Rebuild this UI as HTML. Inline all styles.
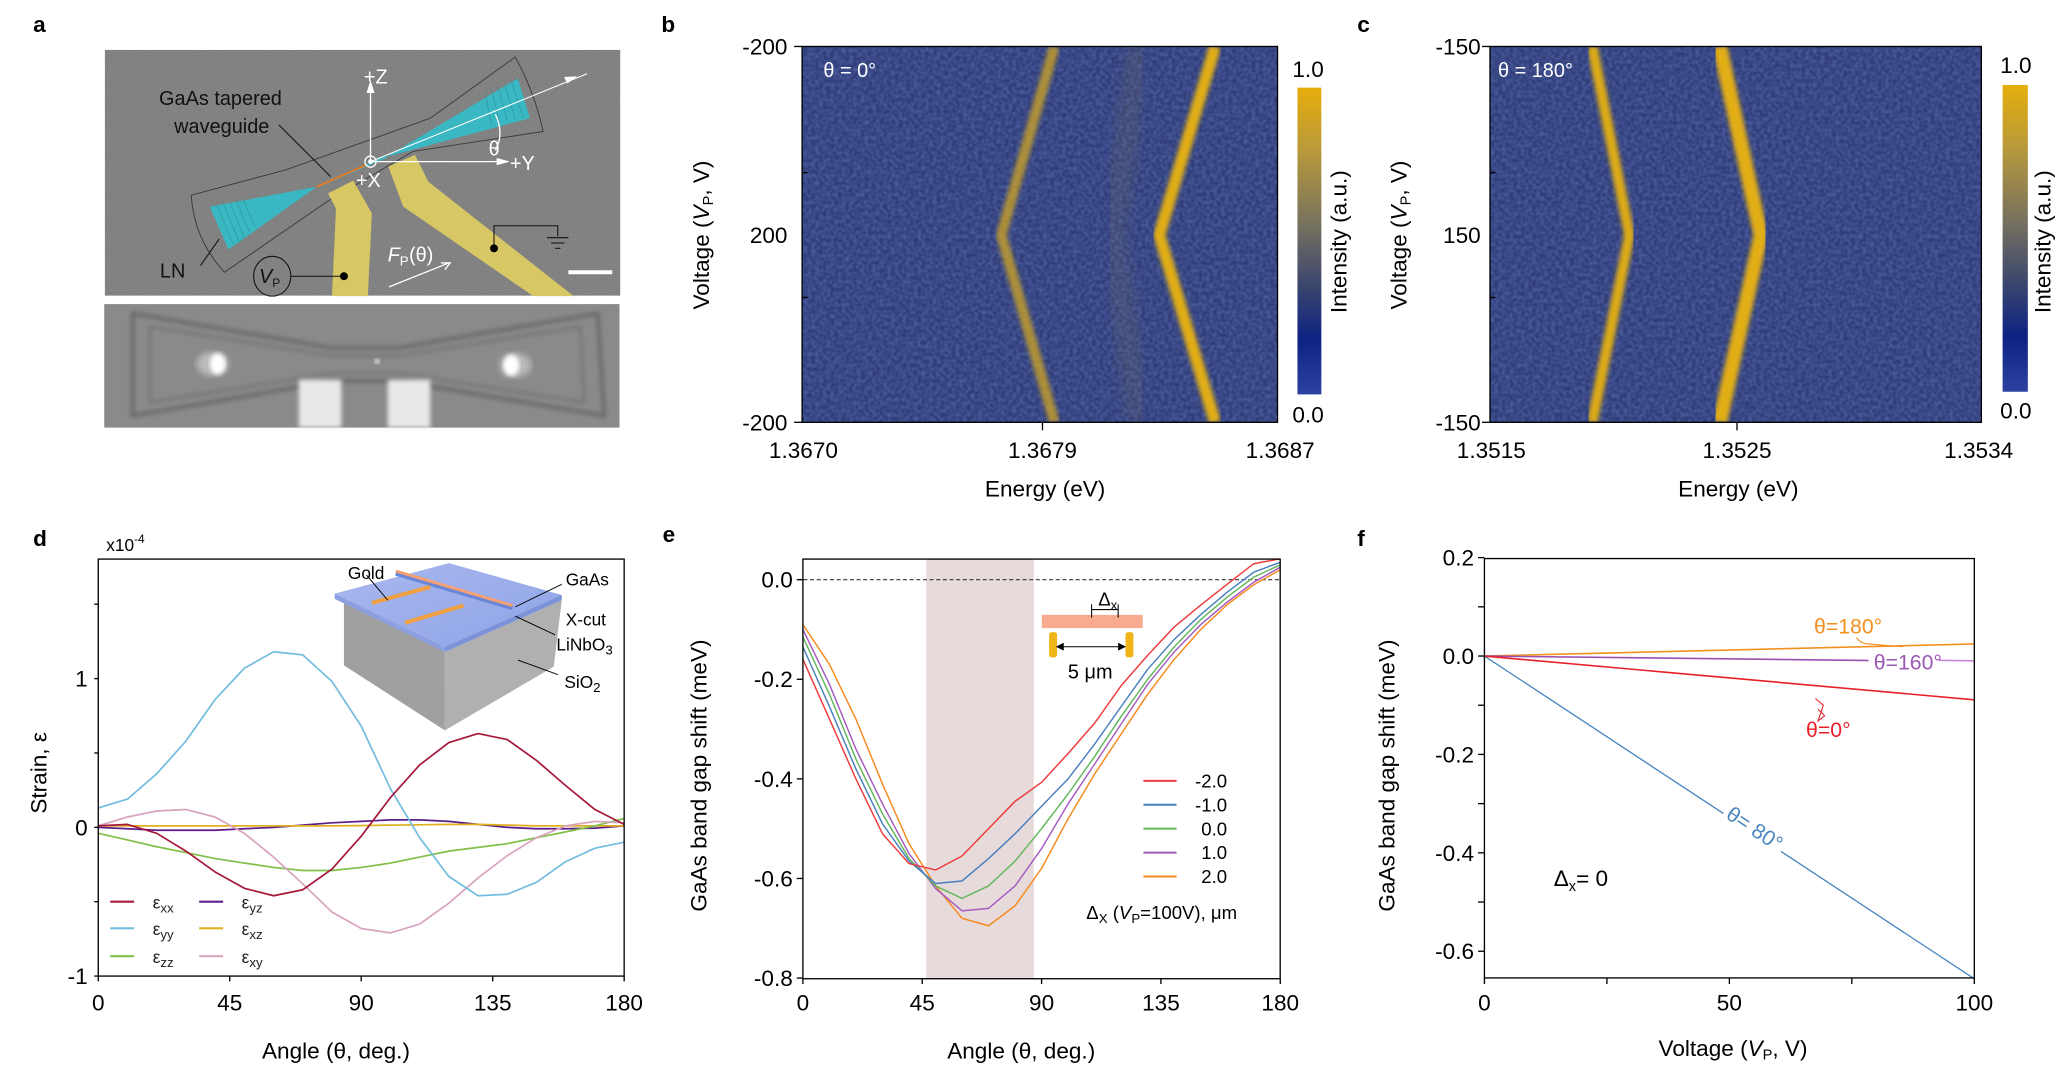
<!DOCTYPE html>
<html><head><meta charset="utf-8"><style>
html,body{margin:0;padding:0;background:#fff;}
svg{display:block;}
text{font-family:"Liberation Sans",Arial,sans-serif;}
</style></head><body>
<svg id="s" width="2071" height="1077" viewBox="0 0 1559.5 811" preserveAspectRatio="none" xmlns="http://www.w3.org/2000/svg">
<defs>
<filter id="noise" x="0" y="0" width="100%" height="100%">
<feTurbulence type="fractalNoise" baseFrequency="0.35" numOctaves="1" seed="3"/>
<feColorMatrix type="matrix" values="0 0 0 0 0.1  0 0 0 0 0.15  0 0 0 0 0.45  0 0 0 1.2 -0.35"/>
</filter>
<filter id="noise2" x="0" y="0" width="100%" height="100%">
<feTurbulence type="fractalNoise" baseFrequency="0.9" numOctaves="1" seed="7"/>
<feColorMatrix type="matrix" values="0 0 0 0 0.5 0 0 0 0 0.5 0 0 0 0 0.5 0 0 0 0.6 -0.2"/>
</filter>
<filter id="blur"><feGaussianBlur stdDeviation="1.6"/></filter>
<filter id="blur2"><feGaussianBlur stdDeviation="2.5"/></filter>
<filter id="blur3"><feGaussianBlur stdDeviation="3"/></filter>
<filter id="blur5"><feGaussianBlur stdDeviation="5"/></filter>
<linearGradient id="cb" x1="0" y1="0" x2="0" y2="1">
<stop offset="0" stop-color="#e6ae0c"/><stop offset="0.2" stop-color="#b99a3a"/><stop offset="0.45" stop-color="#75705f"/><stop offset="0.65" stop-color="#3a456e"/><stop offset="0.82" stop-color="#0d2283"/><stop offset="1" stop-color="#2c42a0"/>
</linearGradient>
<linearGradient id="top" x1="0" y1="0" x2="1" y2="1"><stop offset="0" stop-color="#a9b8ef"/><stop offset="1" stop-color="#8ea3e6"/></linearGradient>
<clipPath id="cpb"><rect x="604" y="35" width="358" height="283"/></clipPath>
<clipPath id="cpc"><rect x="1122" y="35" width="370" height="283"/></clipPath>
</defs>

<g font-weight="bold" font-size="17">
<text x="25" y="24">a</text><text x="498" y="24">b</text><text x="1022" y="24">c</text>
<text x="25" y="411">d</text><text x="499" y="408">e</text><text x="1022" y="411">f</text>
</g>

<!-- Panel a -->
<rect x="79" y="37.6" width="388" height="185" fill="#7f7f7f"/>
<rect x="79" y="37.6" width="388" height="185" filter="url(#noise2)" opacity="0.5"/>
<path d="M144,147 L215,128 L324,89 L388,43 Q402,68 409,99 L311,114 L246,152 L169,205 Q146,180 144,147Z" fill="none" stroke="#3a3a3a" stroke-width="0.7"/>
<polygon points="158,155.6 172,188 238.5,140.6" fill="#39b7c2"/>
<polygon points="390,59 399,89 291,118" fill="#39b7c2"/>
<line x1="238.5" y1="140.6" x2="291" y2="118" stroke="#39b7c2" stroke-width="1.5"/>
<g stroke="#2a8f99" stroke-width="0.5" opacity="0.8">
<line x1="163" y1="154" x2="176" y2="185"/><line x1="168" y1="153" x2="180" y2="182"/><line x1="173" y1="152" x2="184" y2="179"/><line x1="178" y1="151" x2="188" y2="175"/><line x1="183" y1="150" x2="192" y2="171"/>
<line x1="385" y1="61" x2="394" y2="89"/><line x1="380" y1="63" x2="388" y2="90"/><line x1="375" y1="65" x2="382" y2="91"/><line x1="370" y1="67" x2="376" y2="92"/><line x1="365" y1="69" x2="370" y2="93"/>
</g>
<line x1="238.5" y1="140.6" x2="275.6" y2="124.2" stroke="#e8781e" stroke-width="1.4"/>
<polygon points="247,145.6 266,136 280,160.6 277,223 250,223 253,157" fill="#d8c765"/>
<polygon points="292.4,125.4 312.5,116.7 322.5,136.8 432,223 401.6,223 303.6,155.6" fill="#d8c765"/>
<g stroke="#fff" stroke-width="1" fill="none">
<line x1="279" y1="121.7" x2="279" y2="65"/><polyline points="276.5,70 279,62 281.5,70" fill="#fff"/>
<line x1="279" y1="121.7" x2="380" y2="121.7"/><polyline points="374,119.5 382,121.7 374,124" fill="#fff"/>
<line x1="279" y1="121.7" x2="442" y2="55.5" stroke-width="0.8"/><polyline points="425,58.5 433,58 427,62.5" fill="#fff"/>
<circle cx="279" cy="121.7" r="4.2"/><circle cx="279" cy="121.7" r="1.3" fill="#fff"/>
<path d="M373,86 Q380,101 373,113"/>
<line x1="428" y1="205" x2="461" y2="205" stroke-width="3"/>
<line x1="293" y1="216" x2="338" y2="198"/><polyline points="332,198 339,198 335,203"/>
</g>
<g fill="#fff" font-size="15"><text x="274" y="63">+Z</text><text x="384" y="128">+Y</text><text x="268" y="141">+X</text><text x="368" y="117">θ</text>
<text x="292" y="197" font-style="italic">F</text><text x="301" y="200" font-size="10">P</text><text x="308" y="197">(θ)</text></g>
<g fill="#111" font-size="15" text-anchor="middle"><text x="166" y="79">GaAs tapered</text><text x="167" y="100">waveguide</text><text x="130" y="209">LN</text></g>
<g stroke="#111" stroke-width="0.8" fill="none">
<line x1="210" y1="94" x2="249" y2="133"/><line x1="151" y1="200" x2="165" y2="180"/>
<ellipse cx="205" cy="208" rx="14" ry="15"/><line x1="219" y1="208" x2="259" y2="208"/>
<polyline points="372,187 372,170 420,170 420,178"/><line x1="412" y1="179" x2="428" y2="179"/><line x1="415" y1="183" x2="425" y2="183"/><line x1="418" y1="187" x2="422" y2="187"/>
</g>
<circle cx="259" cy="208" r="3" fill="#000"/><circle cx="372" cy="187" r="3" fill="#000"/>
<text x="195" y="213" font-size="15" font-style="italic" fill="#111">V</text><text x="205" y="216" font-size="9" fill="#111">P</text>

<rect x="78.5" y="229" width="388" height="93" fill="#8a8a8a"/>
<g fill="none" stroke="#6b6b6b" stroke-width="3" filter="url(#blur)">
<path d="M100,236 L250,262 L300,262 L450,236 L455,313 L300,287 L250,287 L100,313Z"/>
<path d="M113,246 L250,268 L300,268 L437,246 L440,303 L300,281 L250,281 L113,303Z" stroke-width="2" stroke="#747474"/>
</g>
<ellipse cx="160" cy="274" rx="12" ry="9" fill="#bbb" filter="url(#blur2)"/>
<ellipse cx="388" cy="275" rx="12" ry="9" fill="#bbb" filter="url(#blur2)"/>
<ellipse cx="164" cy="274" rx="6" ry="8" fill="#fff" filter="url(#blur)"/>
<ellipse cx="385" cy="275" rx="6" ry="8" fill="#fff" filter="url(#blur)"/>
<circle cx="284" cy="272" r="2" fill="#eee" filter="url(#blur)"/>
<rect x="225" y="286" width="32" height="36" fill="#e8e8e8" filter="url(#blur)"/>
<rect x="292" y="286" width="32" height="36" fill="#e8e8e8" filter="url(#blur)"/>

<!-- Panel b -->
<g clip-path="url(#cpb)">
<rect x="604" y="35" width="358" height="283" fill="#2f3d78"/>
<rect x="604" y="35" width="358" height="283" filter="url(#noise)"/>
<polyline points="608,35 608,318" stroke="#7a6f45" stroke-width="6" opacity="0.35" filter="url(#blur3)"/>
<polyline points="858,35 838,177 858,318" fill="none" stroke="#8a7f55" stroke-width="18" opacity="0.18" filter="url(#blur5)"/>
<polyline points="794,35 754,177 794,318" fill="none" stroke="#c9a028" stroke-width="8" opacity="0.8" filter="url(#blur)"/>
<polyline points="915,35 873,177 915,318" fill="none" stroke="#e0ad12" stroke-width="9" filter="url(#blur)"/>
</g>
<rect x="604" y="35" width="358" height="283" fill="none" stroke="#000" stroke-width="1"/>
<text x="620" y="58" fill="#fff" font-size="15">θ = 0°</text>
<rect x="977" y="66" width="18" height="231" fill="url(#cb)"/>
<g font-size="17" text-anchor="end"><text x="593" y="41">-200</text><text x="593" y="183">200</text><text x="593" y="324">-200</text></g>
<g stroke="#000"><line x1="598" y1="35" x2="604" y2="35"/><line x1="598" y1="318" x2="604" y2="318"/><line x1="604" y1="130" x2="608" y2="130"/><line x1="604" y1="224" x2="608" y2="224"/><line x1="785" y1="318" x2="785" y2="324"/></g>
<g font-size="17" text-anchor="middle"><text x="605" y="345">1.3670</text><text x="785" y="345">1.3679</text><text x="964" y="345">1.3687</text>
<text x="787" y="374">Energy (eV)</text><text x="985" y="58">1.0</text><text x="985" y="318">0.0</text></g>
<text transform="translate(534,177) rotate(-90)" font-size="17" text-anchor="middle">Voltage (<tspan font-style="italic">V</tspan><tspan font-size="11" dy="3">P</tspan><tspan dy="-3">, V)</tspan></text>
<text transform="translate(1014,182) rotate(-90)" font-size="17" text-anchor="middle">Intensity (a.u.)</text>

<!-- Panel c -->
<g clip-path="url(#cpc)">
<rect x="1122" y="35" width="370" height="283" fill="#2f3d78"/>
<rect x="1122" y="35" width="370" height="283" filter="url(#noise)"/>
<polyline points="1131,35 1131,318" stroke="#8a7f55" stroke-width="8" opacity="0.4" filter="url(#blur3)"/>
<polyline points="1199,35 1227,177 1199,318" fill="none" stroke="#dcaa14" stroke-width="8" filter="url(#blur)"/>
<polyline points="1295,35 1326,177 1295,318" fill="none" stroke="#e2ae12" stroke-width="11" filter="url(#blur)"/>
</g>
<rect x="1122" y="35" width="370" height="283" fill="none" stroke="#000" stroke-width="1"/>
<text x="1128" y="58" fill="#fff" font-size="15">θ = 180°</text>
<rect x="1508" y="64" width="19" height="231" fill="url(#cb)"/>
<g font-size="17" text-anchor="end"><text x="1115" y="41">-150</text><text x="1115" y="183">150</text><text x="1115" y="324">-150</text></g>
<g stroke="#000"><line x1="1116" y1="35" x2="1122" y2="35"/><line x1="1116" y1="318" x2="1122" y2="318"/><line x1="1122" y1="130" x2="1126" y2="130"/><line x1="1122" y1="224" x2="1126" y2="224"/><line x1="1308" y1="318" x2="1308" y2="324"/></g>
<g font-size="17" text-anchor="middle"><text x="1123" y="345">1.3515</text><text x="1308" y="345">1.3525</text><text x="1490" y="345">1.3534</text>
<text x="1309" y="374">Energy (eV)</text><text x="1518" y="55">1.0</text><text x="1518" y="315">0.0</text></g>
<text transform="translate(1059,177) rotate(-90)" font-size="17" text-anchor="middle">Voltage (<tspan font-style="italic">V</tspan><tspan font-size="11" dy="3">P</tspan><tspan dy="-3">, V)</tspan></text>
<text transform="translate(1544,182) rotate(-90)" font-size="17" text-anchor="middle">Intensity (a.u.)</text>

<!-- Panel d -->
<g id="dplot"></g>
<polygon points="259,451 335,491 335,550 259,501" fill="#a0a0a0"/>
<polygon points="335,491 423,452 417,502 335,550" fill="#b0b0b0"/>
<polygon points="252,447 338,424 423,448 335,487" fill="url(#top)"/>
<polygon points="252,447 335,487 335,491 252,451" fill="#8c9fe0"/>
<polygon points="335,487 423,448 423,452 335,491" fill="#7d92d8"/>
<line x1="298" y1="432" x2="386" y2="458" stroke="#6a86d8" stroke-width="3"/>
<line x1="298" y1="430" x2="386" y2="456" stroke="#f7a071" stroke-width="2.2"/>
<line x1="280" y1="454" x2="324" y2="442" stroke="#f0a040" stroke-width="3"/>
<line x1="305" y1="469" x2="349" y2="456" stroke="#f0a040" stroke-width="3"/>
<g stroke="#000" stroke-width="0.7"><line x1="276" y1="433" x2="292" y2="452"/><line x1="388" y1="457" x2="423" y2="440"/><line x1="388" y1="464" x2="418" y2="478"/><line x1="390" y1="497" x2="420" y2="508"/></g>
<g font-size="13"><text x="262" y="436">Gold</text><text x="426" y="441">GaAs</text><text x="426" y="471">X-cut</text><text x="419" y="490">LiNbO<tspan font-size="10" dy="3">3</tspan></text><text x="425" y="518">SiO<tspan font-size="10" dy="3">2</tspan></text></g>
<text x="80" y="415" font-size="13">x10<tspan font-size="9" dy="-6">-4</tspan></text>
<g font-size="13" fill="#222">
<text x="115" y="684">ε<tspan font-size="10" dy="3">xx</tspan></text><text x="115" y="704">ε<tspan font-size="10" dy="3">yy</tspan></text><text x="115" y="725">ε<tspan font-size="10" dy="3">zz</tspan></text>
<text x="182" y="684">ε<tspan font-size="10" dy="3">yz</tspan></text><text x="182" y="704">ε<tspan font-size="10" dy="3">xz</tspan></text><text x="182" y="725">ε<tspan font-size="10" dy="3">xy</tspan></text>
</g>
<g stroke-width="1.6">
<line x1="83" y1="679" x2="101" y2="679" stroke="#a6193a"/><line x1="83" y1="699" x2="101" y2="699" stroke="#74bde0"/><line x1="83" y1="720" x2="101" y2="720" stroke="#7fbf4a"/>
<line x1="150" y1="679" x2="168" y2="679" stroke="#5b1f8c"/><line x1="150" y1="699" x2="168" y2="699" stroke="#e0b020"/><line x1="150" y1="720" x2="168" y2="720" stroke="#d9a4c0"/>
</g>
<text x="253" y="797" font-size="17" text-anchor="middle">Angle (θ, deg.)</text>
<text transform="translate(35,582) rotate(-90)" font-size="17" text-anchor="middle">Strain, ε</text>

<!-- Panel e -->
<rect x="697.5" y="421" width="81" height="316" fill="#e6dada"/>
<line x1="605" y1="436.5" x2="964" y2="436.5" stroke="#333" stroke-width="0.8" stroke-dasharray="3,2"/>
<g id="eplot"></g>
<rect x="784.5" y="463" width="76" height="10" fill="#f9ab90"/>
<rect x="790" y="476" width="6" height="19" rx="2" fill="#f0b619"/><rect x="847.5" y="476" width="6" height="19" rx="2" fill="#f0b619"/>
<g stroke="#000" stroke-width="0.8"><line x1="797" y1="487" x2="846" y2="487"/><polyline points="801,484.5 796,487 801,489.5" fill="#000"/><polyline points="842,484.5 847,487 842,489.5" fill="#000"/>
<line x1="822" y1="455" x2="822" y2="465"/><line x1="842" y1="455" x2="842" y2="465"/><line x1="822" y1="459" x2="842" y2="459"/></g>
<text x="821" y="511" font-size="15" text-anchor="middle">5 μm</text>
<text x="827" y="456" font-size="14">Δ<tspan font-size="10" dy="3">x</tspan></text>
<g font-size="14" text-anchor="end"><text x="924" y="593">-2.0</text><text x="924" y="611">-1.0</text><text x="924" y="629">0.0</text><text x="924" y="647">1.0</text><text x="924" y="665">2.0</text></g>
<g stroke-width="1.5"><line x1="861" y1="588" x2="886" y2="588" stroke="#ee3b3b"/><line x1="861" y1="606" x2="886" y2="606" stroke="#4a7fc0"/><line x1="861" y1="624" x2="886" y2="624" stroke="#62b85a"/><line x1="861" y1="642" x2="886" y2="642" stroke="#a55bc0"/><line x1="861" y1="660" x2="886" y2="660" stroke="#f78a1e"/></g>
<text x="818" y="692" font-size="14">Δ<tspan font-size="10" dy="3">X</tspan><tspan dy="-3"> (</tspan><tspan font-style="italic">V</tspan><tspan font-size="10" dy="3">P</tspan><tspan dy="-3">=100V), μm</tspan></text>
<text x="769" y="797" font-size="17" text-anchor="middle">Angle (θ, deg.)</text>
<text transform="translate(532,584) rotate(-90)" font-size="17" text-anchor="middle">GaAs band gap shift (meV)</text>

<!-- Panel f -->
<g id="fplot"></g>
<text x="1305" y="795" font-size="17" text-anchor="middle">Voltage (<tspan font-style="italic">V</tspan><tspan font-size="11" dy="3">P</tspan><tspan dy="-3">, V)</tspan></text>
<text transform="translate(1050,584) rotate(-90)" font-size="17" text-anchor="middle">GaAs band gap shift (meV)</text>
</svg>
<script>
var NS="http://www.w3.org/2000/svg";
function el(p,t,a,txt){var e=document.createElementNS(NS,t);for(var k in a)e.setAttribute(k,a[k]);if(txt!==undefined)e.textContent=txt;p.appendChild(e);return e;}
function line(p,x1,y1,x2,y2,a){a=a||{};a.x1=x1;a.y1=y1;a.x2=x2;a.y2=y2;if(!a.stroke)a.stroke="#000";el(p,"line",a);}
function poly(p,pts,col,w){el(p,"polyline",{points:pts.map(function(q){return q[0].toFixed(1)+","+q[1].toFixed(1)}).join(" "),fill:"none",stroke:col,"stroke-width":w||1.3,"stroke-linejoin":"round"});}
var d=document.getElementById("dplot");
var DX=function(a){return 74+a*2.2},DY=function(v){return 623-v*112};
var angs=[];for(var i=0;i<=18;i++)angs.push(i*10);
var ds=[
["#5b1f8c",[0,-0.01,-0.02,-0.02,-0.02,-0.01,0,0.015,0.03,0.04,0.05,0.05,0.04,0.02,0,-0.01,-0.01,-0.005,0.01]],
["#e0b020",[0.01,0.01,0.01,0.01,0.01,0.01,0.01,0.01,0.01,0.012,0.015,0.017,0.02,0.02,0.015,0.01,0.01,0.01,0.01]],
["#7fbf4a",[-0.04,-0.085,-0.13,-0.17,-0.21,-0.24,-0.27,-0.29,-0.29,-0.27,-0.24,-0.2,-0.16,-0.135,-0.11,-0.07,-0.03,0.01,0.06]],
["#d9a4c0",[0.01,0.07,0.11,0.12,0.07,-0.04,-0.2,-0.38,-0.57,-0.68,-0.71,-0.65,-0.51,-0.34,-0.19,-0.07,0.01,0.04,0.03]],
["#74bde0",[0.13,0.19,0.36,0.58,0.86,1.07,1.18,1.16,0.98,0.68,0.26,-0.07,-0.33,-0.46,-0.45,-0.37,-0.23,-0.14,-0.1]],
["#a6193a",[0.01,0.02,-0.04,-0.16,-0.3,-0.41,-0.46,-0.42,-0.28,-0.06,0.2,0.42,0.57,0.63,0.59,0.45,0.28,0.12,0.02]]];
ds.forEach(function(s){poly(d,angs.map(function(a,i){return [DX(a),DY(s[1][i])]}),s[0],1.3)});
el(d,"rect",{x:74,y:421,width:396,height:314,fill:"none",stroke:"#000","stroke-width":1});
[[1.5,0],[1,1],[0.5,0],[0,1],[-0.5,0],[-1,1]].forEach(function(t){line(d,71,DY(t[0]),74,DY(t[0]));if(t[1])el(d,"text",{x:66,y:DY(t[0])+6,"font-size":17,"text-anchor":"end"},String(t[0]));});
[0,45,90,135,180].forEach(function(a){line(d,DX(a),735,DX(a),739);el(d,"text",{x:DX(a),y:761,"font-size":17,"text-anchor":"middle"},String(a));});
var e=document.getElementById("eplot");
var EX=function(a){return 604.6+a*1.997},EY=function(v){return 436.5-v*375};
var es=[
["#f78a1e",[-0.09,-0.17,-0.28,-0.41,-0.53,-0.615,-0.68,-0.695,-0.655,-0.58,-0.48,-0.39,-0.31,-0.23,-0.16,-0.1,-0.05,-0.01,0.02]],
["#a55bc0",[-0.1,-0.21,-0.34,-0.45,-0.55,-0.62,-0.665,-0.66,-0.615,-0.54,-0.45,-0.37,-0.29,-0.21,-0.145,-0.09,-0.045,-0.005,0.025]],
["#62b85a",[-0.115,-0.23,-0.36,-0.47,-0.56,-0.615,-0.64,-0.615,-0.565,-0.5,-0.43,-0.355,-0.275,-0.2,-0.135,-0.08,-0.035,0.005,0.03]],
["#4a7fc0",[-0.135,-0.255,-0.38,-0.49,-0.565,-0.61,-0.605,-0.56,-0.51,-0.455,-0.4,-0.33,-0.255,-0.18,-0.12,-0.07,-0.025,0.015,0.035]],
["#ee3b3b",[-0.16,-0.28,-0.4,-0.51,-0.57,-0.583,-0.555,-0.5,-0.445,-0.407,-0.349,-0.288,-0.213,-0.152,-0.095,-0.051,-0.009,0.032,0.042]]];
es.forEach(function(s){poly(e,angs.map(function(a,i){return [EX(a),EY(s[1][i])]}),s[0],1.1)});
el(e,"rect",{x:604.6,y:421,width:359.4,height:316,fill:"none",stroke:"#000","stroke-width":1});
[0,-0.2,-0.4,-0.6,-0.8].forEach(function(v){line(e,600,EY(v),604.6,EY(v));el(e,"text",{x:597,y:EY(v)+6,"font-size":17,"text-anchor":"end"},v.toFixed(1));});
[0,45,90,135,180].forEach(function(a){line(e,EX(a),737,EX(a),741);el(e,"text",{x:EX(a),y:761,"font-size":17,"text-anchor":"middle"},String(a));});
var f=document.getElementById("fplot");
var FX=function(v){return 1117.8+v*3.689},FY=function(v){return 494-v*370.5};
line(f,FX(0),FY(0),FX(100),FY(-0.656),{stroke:"#4a86c0","stroke-width":1});
line(f,FX(0),FY(0),FX(100),FY(0.0245),{stroke:"#f39020","stroke-width":1.2});
line(f,FX(0),FY(0),FX(100),FY(-0.0116),{stroke:"#9b4fb0","stroke-width":1.2});
line(f,FX(0),FY(0),FX(100),FY(-0.089),{stroke:"#e8202a","stroke-width":1.2});
el(f,"rect",{x:1407,y:488,width:79,height:17,fill:"#fff"});
line(f,1460,497.2,1486.7,497.6,{stroke:"#c48ad6","stroke-width":1.2});
el(f,"text",{x:1411,y:504,"font-size":16,fill:"#9b59b6"},"θ=160°");
el(f,"text",{x:1366,y:477,"font-size":16,fill:"#f39020"},"θ=180°");
el(f,"path",{d:"M1398,480 q3,5 10,5 l25,2",fill:"none",stroke:"#f39020","stroke-width":0.8});
el(f,"text",{x:1360,y:555,"font-size":16,fill:"#e8202a"},"θ=0°");
el(f,"path",{d:"M1369,534 l5,5 -5,4 4,-12 -6,-5",fill:"none",stroke:"#e8202a","stroke-width":0.8});
var g=el(f,"g",{transform:"translate(1320,626) rotate(33.3)"});
el(g,"rect",{x:-26,y:-12,width:52,height:18,fill:"#fff"});
el(g,"text",{x:0,y:3,"font-size":16,fill:"#4a86c0","text-anchor":"middle"},"θ= 80°");
var t=el(f,"text",{x:1170,y:667,"font-size":17});t.innerHTML='Δ<tspan font-size="11" dy="4">x</tspan><tspan dy="-4">= 0</tspan>';
el(f,"rect",{x:1117.8,y:420.6,width:368.9,height:315.8,fill:"none",stroke:"#000","stroke-width":1});
for(var v=0.2;v>-0.66;v-=0.1){var vv=Math.round(v*10)/10;line(f,1113,FY(vv),1117.8,FY(vv));if(Math.abs(Math.round(vv*10))%2==0)el(f,"text",{x:1110,y:FY(vv)+6,"font-size":17,"text-anchor":"end"},vv.toFixed(1));}
[0,25,50,75,100].forEach(function(x){line(f,FX(x),736.4,FX(x),741);if(x%50==0)el(f,"text",{x:FX(x),y:761,"font-size":17,"text-anchor":"middle"},String(x));});
</script>
</body></html>
